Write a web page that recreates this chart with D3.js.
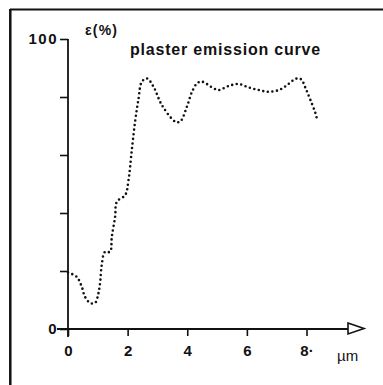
<!DOCTYPE html>
<html>
<head>
<meta charset="utf-8">
<script src="https://cdn.jsdelivr.net/npm/d3@7"></script>
<style>
	body { margin: 0; background: #fff; }
	svg text { font-family: "Liberation Sans", Arial, sans-serif; fill: #111; }
</style>
</head>
<body>
<svg id="chart" width="383" height="385"></svg>
<script>
//emission curve (wavelength in um, emissivity in %)
var wavelength = [0, 0.29, 0.46, 0.57, 0.74, 0.91, 1.02, 1.08, 1.13, 1.24, 1.41, 1.47, 1.58, 1.64, 1.92, 2.03, 2.14, 2.25, 2.36, 2.48, 2.65, 2.87, 3.15, 3.6, 3.76, 3.99, 4.16, 4.33, 4.49, 4.88, 5.05, 5.39, 5.72, 6.06, 6.4, 6.73, 7.07, 7.35, 7.57, 7.69, 7.82, 7.97, 8.13, 8.3, 8.36];
var emission = [19.5, 18, 14.6, 11.1, 9, 9, 12.3, 16.3, 22, 26.6, 26.6, 31.8, 38.7, 43.9, 46.2, 51.4, 61.7, 71.5, 79, 85.3, 86.4, 83.5, 77.2, 71.5, 71.5, 76.7, 81.8, 84.7, 85.3, 83, 82.4, 83.8, 84.5, 83.3, 82.4, 81.8, 82.4, 84.1, 85.9, 86.4, 86.1, 83, 79, 74.4, 72.1];

var xTicks = [0, 2, 4, 6, 8];
var xTickLabels = ["0", "2", "4", "6", "8·"];
var yTicks = [0, 20, 40, 60, 80, 100];
var yTickLabels = {0: "0", 100: "100"};

var svg = d3.select("#chart");

//scanned page frame (top and left edges only)
svg.append("line").attr("x1", 10).attr("y1", 9.5).attr("x2", 383).attr("y2", 9.5)
	.attr("stroke", "#111").attr("stroke-width", 2);
svg.append("line").attr("x1", 10.3).attr("y1", 9).attr("x2", 10.3).attr("y2", 385)
	.attr("stroke", "#111").attr("stroke-width", 2.5);

var x = d3.scaleLinear().domain([0, 8]).range([68, 306.5]);
var y = d3.scaleLinear().domain([0, 100]).range([329, 39]);

//x axis
var xAxis = d3.axisBottom(x).tickValues(xTicks)
	.tickFormat(function(d, i) { return xTickLabels[i]; })
	.tickSize(7).tickPadding(9);
var gx = svg.append("g").attr("transform", "translate(0," + y(0) + ")").call(xAxis);
gx.select(".domain").remove();
gx.selectAll("line").attr("stroke", "#111").attr("stroke-width", 1.6);
gx.selectAll("text").attr("font-size", 15).attr("font-weight", "bold");

svg.append("line").attr("x1", 57).attr("x2", 348).attr("y1", y(0)).attr("y2", y(0))
	.attr("stroke", "#111").attr("stroke-width", 1.8);
svg.append("path").attr("d", "M348,323 L364,328.5 L348,334 Z")
	.attr("fill", "#fff").attr("stroke", "#111").attr("stroke-width", 1.6);

//y axis
var yAxis = d3.axisLeft(y).tickValues(yTicks)
	.tickFormat(function(d) { return yTickLabels[d] || ""; })
	.tickSize(8).tickPadding(2);
var gy = svg.append("g").attr("transform", "translate(" + x(0) + ",0)").call(yAxis);
gy.select(".domain").remove();
gy.selectAll("line").attr("stroke", "#111").attr("stroke-width", 1.6);
gy.selectAll("text").attr("font-size", 15).attr("font-weight", "bold")
	.attr("letter-spacing", 1.5);

svg.append("line").attr("x1", x(0)).attr("x2", x(0)).attr("y1", y(100)).attr("y2", 337)
	.attr("stroke", "#111").attr("stroke-width", 1.8);

//labels
svg.append("text").attr("x", 85).attr("y", 35).attr("font-size", 14).attr("font-weight", "bold")
	.attr("letter-spacing", 1.2).text("ε(%)");
svg.append("text").attr("x", 130).attr("y", 55).attr("font-size", 16).attr("font-weight", "bold")
	.attr("letter-spacing", 0.8).text("plaster emission curve");
svg.append("text").attr("x", 337).attr("y", 361).attr("font-size", 15)
	.text("µm");

//dotted emission curve
var pts = wavelength.map(function(w, i) { return [w, emission[i]]; });
var line = d3.line()
	.x(function(d) { return x(d[0]); })
	.y(function(d) { return y(d[1]); })
	.curve(d3.curveCatmullRom);
svg.append("path").datum(pts).attr("d", line)
	.attr("fill", "none").attr("stroke", "#111").attr("stroke-width", 2.6)
	.attr("stroke-linecap", "round").attr("stroke-dasharray", "0 4.6");
</script>
</body>
</html>
